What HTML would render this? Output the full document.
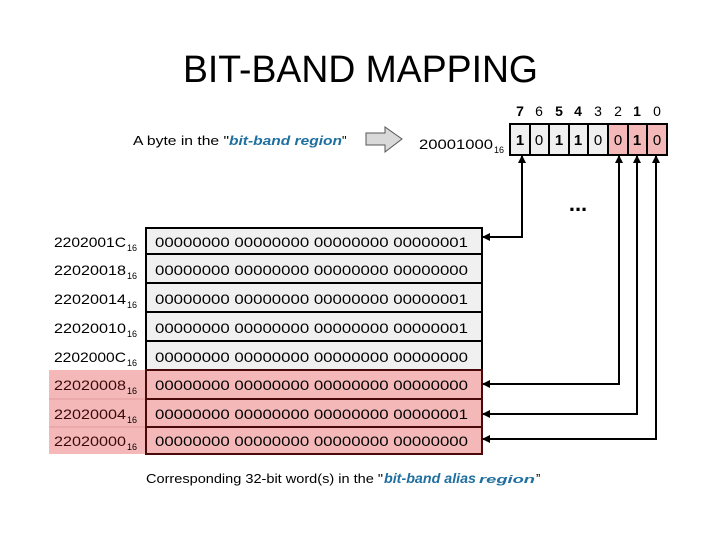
<!DOCTYPE html>
<html><head><meta charset="utf-8"><style>
html,body{margin:0;padding:0;background:#fff;}
svg{display:block;font-family:"Liberation Sans",sans-serif;}
</style></head><body>
<svg width="720" height="540" viewBox="0 0 720 540" xmlns="http://www.w3.org/2000/svg">
<defs>
<marker id="ah" markerWidth="8" markerHeight="8" refX="7" refY="4" orient="auto" markerUnits="userSpaceOnUse">
<path d="M0,0 L8,4 L0,8 z" fill="#000"/>
</marker>
</defs>
<text x="183" y="82" font-size="38" textLength="355" lengthAdjust="spacingAndGlyphs">BIT-BAND MAPPING</text>

<text x="133" y="145" font-size="13" textLength="96" lengthAdjust="spacingAndGlyphs">A byte in the "</text>
<text x="229" y="145" font-size="13" font-weight="bold" font-style="italic" fill="#1f6fa0" textLength="113" lengthAdjust="spacingAndGlyphs">bit-band region</text>
<text x="342" y="145" font-size="13">"</text>
<path d="M366,133 L385,133 L385,127 L402,139 L385,152 L385,145 L366,145 Z" fill="#d9d9d9" stroke="#555" stroke-width="1"/>

<text x="419" y="149" font-size="14" textLength="74" lengthAdjust="spacingAndGlyphs">20001000</text>
<text x="494" y="153" font-size="9">16</text>

<g font-size="14" text-anchor="middle">
<text x="520" y="116" font-weight="bold">7</text><text x="539" y="116">6</text><text x="559" y="116" font-weight="bold">5</text><text x="578" y="116" font-weight="bold">4</text><text x="598" y="116">3</text><text x="618" y="116">2</text><text x="637" y="116" font-weight="bold">1</text><text x="657" y="116">0</text>
</g>
<rect x="510" y="124" width="98" height="31" fill="#f0f0f0"/>
<rect x="608" y="124" width="59" height="31" fill="#f4b8b8"/>
<g stroke="#000" stroke-width="2" fill="none">
<rect x="510" y="124" width="157" height="31"/>
<line x1="530" y1="124" x2="530" y2="155"/><line x1="549" y1="124" x2="549" y2="155"/><line x1="569" y1="124" x2="569" y2="155"/><line x1="588" y1="124" x2="588" y2="155"/><line x1="608" y1="124" x2="608" y2="155"/><line x1="628" y1="124" x2="628" y2="155"/><line x1="647" y1="124" x2="647" y2="155"/>
</g>
<g font-size="15" text-anchor="middle">
<text x="520" y="145" font-weight="bold">1</text><text x="539" y="145">0</text><text x="559" y="145" font-weight="bold">1</text><text x="578" y="145" font-weight="bold">1</text><text x="598" y="145">0</text><text x="618" y="145">0</text><text x="637" y="145" font-weight="bold">1</text><text x="657" y="145">0</text>
</g>
<text x="578" y="211" font-size="22" font-weight="bold" text-anchor="middle">...</text>

<!-- rows -->
<rect x="49" y="370" width="97" height="84" fill="#f4b8b8"/>
<line x1="49" y1="399" x2="146" y2="399" stroke="#e59a9a"/>
<line x1="49" y1="427" x2="146" y2="427" stroke="#e59a9a"/>
<g stroke="#000" stroke-width="2">
<rect x="146" y="228" width="336" height="142" fill="#f0f0f0"/>
</g>
<rect x="146" y="370" width="336" height="84" fill="#f4b8b8" stroke="#4a0a0a" stroke-width="2"/>
<g stroke="#000" stroke-width="2">
<line x1="146" y1="254" x2="482" y2="254"/><line x1="146" y1="283" x2="482" y2="283"/><line x1="146" y1="312" x2="482" y2="312"/><line x1="146" y1="341" x2="482" y2="341"/>
</g>
<g stroke="#4a0a0a" stroke-width="2">
<line x1="146" y1="399" x2="482" y2="399"/><line x1="146" y1="427" x2="482" y2="427"/>
</g>

<g font-size="14">
<text x="155" y="247" textLength="313" lengthAdjust="spacingAndGlyphs">00000000 00000000 00000000 00000001</text>
<text x="155" y="275" textLength="313" lengthAdjust="spacingAndGlyphs">00000000 00000000 00000000 00000000</text>
<text x="155" y="304" textLength="313" lengthAdjust="spacingAndGlyphs">00000000 00000000 00000000 00000001</text>
<text x="155" y="333" textLength="313" lengthAdjust="spacingAndGlyphs">00000000 00000000 00000000 00000001</text>
<text x="155" y="362" textLength="313" lengthAdjust="spacingAndGlyphs">00000000 00000000 00000000 00000000</text>
<text x="155" y="390" textLength="313" lengthAdjust="spacingAndGlyphs">00000000 00000000 00000000 00000000</text>
<text x="155" y="419" textLength="313" lengthAdjust="spacingAndGlyphs">00000000 00000000 00000000 00000001</text>
<text x="155" y="446" textLength="313" lengthAdjust="spacingAndGlyphs">00000000 00000000 00000000 00000000</text>
</g>
<g font-size="14">
<text x="54" y="247" textLength="72" lengthAdjust="spacingAndGlyphs">2202001C</text>
<text x="54" y="275" textLength="72" lengthAdjust="spacingAndGlyphs">22020018</text>
<text x="54" y="304" textLength="72" lengthAdjust="spacingAndGlyphs">22020014</text>
<text x="54" y="333" textLength="72" lengthAdjust="spacingAndGlyphs">22020010</text>
<text x="54" y="362" textLength="72" lengthAdjust="spacingAndGlyphs">2202000C</text>
<text x="54" y="390" textLength="72" lengthAdjust="spacingAndGlyphs" fill="#3a0a0a">22020008</text>
<text x="54" y="419" textLength="72" lengthAdjust="spacingAndGlyphs" fill="#3a0a0a">22020004</text>
<text x="54" y="446" textLength="72" lengthAdjust="spacingAndGlyphs" fill="#3a0a0a">22020000</text>
</g>
<g font-size="9">
<text x="127" y="251">16</text><text x="127" y="279">16</text><text x="127" y="308">16</text><text x="127" y="337">16</text><text x="127" y="366">16</text><text x="127" y="394">16</text><text x="127" y="423">16</text><text x="127" y="450">16</text>
</g>

<!-- connectors -->
<g stroke="#000" stroke-width="2" fill="none" marker-end="url(#ah)">
<polyline points="522,237 522,156"/>
<polyline points="619,384 619,156"/>
<polyline points="637,414 637,156"/>
<polyline points="656,439 656,156"/>
</g>
<g stroke="#000" stroke-width="2" fill="none" marker-end="url(#ah)">
<polyline points="522,200 522,237 483,237"/>
<polyline points="619,300 619,384 483,384"/>
<polyline points="637,300 637,414 483,414"/>
<polyline points="656,300 656,439 483,439"/>
</g>

<text x="146" y="483" font-size="13" textLength="237" lengthAdjust="spacingAndGlyphs">Corresponding 32-bit word(s) in the "</text>
<text x="384" y="483" font-size="14" font-weight="bold" font-style="italic" fill="#1f6fa0" textLength="92" lengthAdjust="spacingAndGlyphs">bit-band alias</text>
<text x="479" y="483" font-size="11" font-weight="bold" font-style="italic" fill="#1f6fa0" textLength="56" lengthAdjust="spacingAndGlyphs">region</text>
<text x="536" y="483" font-size="13">”</text>
</svg>
</body></html>
